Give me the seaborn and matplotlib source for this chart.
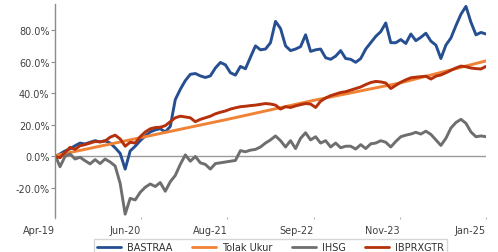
import seaborn as sns
import matplotlib.pyplot as plt
import pandas as pd
import numpy as np
from matplotlib.lines import Line2D
from matplotlib.ticker import FuncFormatter

# cumulative return in % at evenly spaced dates
bastraa = [0.0, 1.6, 3.5, 4.8, 6.8, 8.5, 7.9, 9.0, 10.0, 9.2,
           10.0, 8.5, 5.5, 2.0, -8.0, 3.5, 6.5, 10.0, 13.0, 15.5,
           16.8, 17.6, 15.5, 19.0, 36.0, 42.5, 48.0, 52.0, 52.5, 51.0,
           50.0, 51.0, 56.0, 59.5, 58.0, 53.0, 51.5, 57.0, 55.5, 62.8,
           70.0, 67.5, 68.0, 72.0, 85.5, 81.0, 70.0, 67.0, 68.0, 69.5,
           77.0, 66.5, 67.5, 68.0, 62.5, 61.5, 63.5, 67.0, 62.0, 61.5,
           59.6, 62.0, 68.0, 72.0, 76.0, 79.0, 84.5, 72.0, 72.0, 74.0,
           71.5, 77.5, 73.3, 75.4, 78.0, 73.0, 70.5, 62.0, 70.5, 75.0,
           82.8, 90.0, 95.0, 84.9, 77.0, 78.5, 77.5]
ibprxgtr = [0.0, -0.8, 2.5, 5.8, 4.5, 6.8, 7.5, 8.5, 9.5, 9.3,
            9.8, 12.2, 13.5, 11.1, 6.5, 9.0, 8.5, 12.5, 15.5, 17.5,
            18.3, 18.5, 19.5, 22.0, 24.5, 25.5, 25.0, 24.5, 22.0, 23.5,
            24.5, 25.5, 27.0, 28.0, 28.8, 30.0, 30.8, 31.5, 31.8, 32.2,
            32.5, 33.0, 33.5, 33.2, 32.5, 30.0, 31.5, 31.0, 32.0, 32.8,
            33.5, 33.2, 31.0, 35.0, 37.0, 38.5, 39.5, 40.5, 41.0, 42.0,
            43.0, 44.0, 45.5, 46.8, 47.5, 47.2, 46.5, 43.0, 45.0, 47.0,
            48.5, 49.8, 50.2, 50.5, 50.8, 49.0, 50.8, 51.6, 53.0, 54.5,
            56.0, 57.2, 56.8, 56.0, 55.6, 55.4, 57.0]
ihsg = [1.0, -6.5, 0.0, 1.6, -1.6, -0.5, -2.7, -4.7, -2.0, -4.5,
        -1.6, -3.5, -6.0, -17.0, -36.5, -26.5, -27.5, -22.7, -19.5, -17.4,
        -19.0, -16.5, -22.0, -16.0, -12.0, -5.0, 1.0, -3.0, 0.0, -4.0,
        -5.0, -8.0, -4.5, -4.0, -3.5, -3.0, -2.5, 3.7, 3.0, 4.0,
        4.5, 6.0, 8.5, 10.5, 13.0, 10.0, 6.0, 10.0, 5.0, 11.5,
        15.0, 10.5, 12.5, 8.5, 10.0, 6.0, 8.5, 5.5, 6.5, 6.5,
        4.7, 7.5, 5.0, 8.0, 8.5, 10.0, 9.0, 6.0, 9.5, 12.5,
        13.5, 14.2, 15.3, 14.2, 16.0, 14.0, 10.5, 7.0, 11.5, 18.0,
        21.5, 23.5, 21.0, 15.5, 12.5, 13.0, 12.5]
# benchmark, read at the six tick dates
tolak_ukur = [0.5, 12.0, 23.5, 35.5, 46.5, 60.5]

series_names = ['BASTRAA', 'Tolak Ukur', 'IHSG', 'IBPRXGTR']
colors = ['#264f92', '#f08236', '#6e6e6e', '#b5300b']
tick_labels = ['Apr-19', 'Jun-20', 'Aug-21', 'Sep-22', 'Nov-23', 'Jan-25']
start, end = '2019-04-16', '2025-01-14'

dates = pd.date_range(start, end, periods=len(bastraa))
bench_dates = pd.date_range(start, end, periods=len(tolak_ukur))

frames = []
for name, d, v in [('BASTRAA', dates, bastraa), ('Tolak Ukur', bench_dates, tolak_ukur),
                   ('IHSG', dates, ihsg), ('IBPRXGTR', dates, ibprxgtr)]:
    frames.append(pd.DataFrame({'date': d, 'ret': np.array(v) / 100, 'series': name}))
df = pd.concat(frames, ignore_index=True)

sns.set_theme(style='white')
plt.rcParams['font.family'] = ['DejaVu Sans']

fig = plt.figure(figsize=(4.98, 2.53), dpi=100)
ax = fig.add_axes([55 / 498, 1 - 218 / 253, (486 - 55) / 498, (218 - 5) / 253])

ax.axhline(0, color='#9a9a9a', lw=1, zorder=0)
sns.lineplot(data=df, x='date', y='ret', hue='series', hue_order=series_names,
             palette=colors, linewidth=2.1, estimator=None, sort=True,
             legend=False, ax=ax)

ax.set_xlim(dates[0], dates[-1])
ax.set_ylim(-0.383, 0.965)
ax.set_yticks([-0.2, 0.0, 0.2, 0.4, 0.6, 0.8])
ax.yaxis.set_major_formatter(FuncFormatter(lambda v, _: f'{v * 100:.1f}%'))
ax.set_xticks(pd.date_range(start, end, periods=len(tick_labels)))
ax.set_xticklabels(tick_labels, ha='right')
ax.set_xlabel('')
ax.set_ylabel('')

for side in ['top', 'right', 'bottom']:
    ax.spines[side].set_visible(False)
ax.spines['left'].set_color('#8c8c8c')
ax.spines['left'].set_linewidth(1)

ax.tick_params(axis='y', left=True, length=3, width=0.8, color='#8c8c8c',
               pad=1, labelsize=7, labelcolor='#404040')
ax.tick_params(axis='x', bottom=True, length=1.5, width=0.8, color='#b0b0b0',
               pad=4, labelsize=7, labelcolor='#404040')

handles = [Line2D([], [], color=c, lw=2) for c in colors]
fig.legend(handles, series_names, loc='upper center',
           bbox_to_anchor=(270.5 / 498, 1 - 240 / 253), borderaxespad=0,
           ncol=4, fontsize=7, frameon=True, fancybox=False,
           edgecolor='#cccccc', handlelength=2.5, handletextpad=0.6,
           columnspacing=2.0, borderpad=0.3, labelcolor='#303030')

fig.savefig('out.png', dpi=100, facecolor='white')
